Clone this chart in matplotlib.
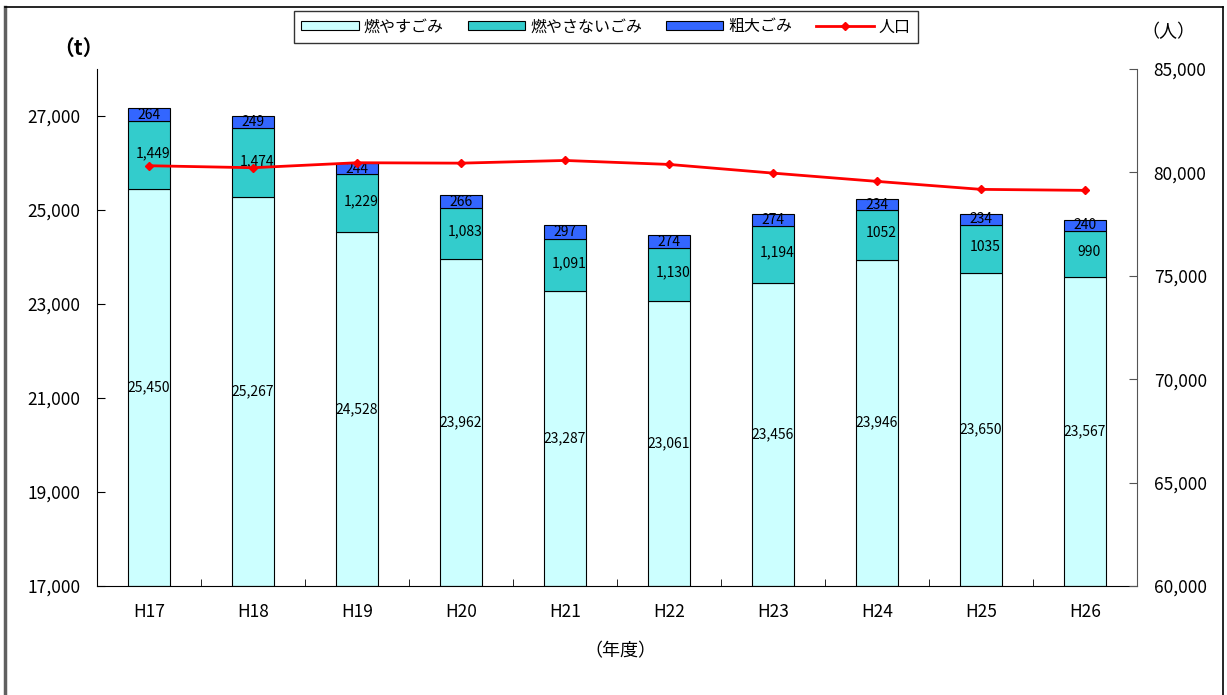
import numpy as np
import matplotlib
matplotlib.use("Agg")
import matplotlib.pyplot as plt
from matplotlib.lines import Line2D

plt.rcParams['font.family'] = ['Noto Sans CJK JP', 'DejaVu Sans']

years = ["H17", "H18", "H19", "H20", "H21", "H22", "H23", "H24", "H25", "H26"]
burnable = [25450, 25267, 24528, 23962, 23287, 23061, 23456, 23946, 23650, 23567]
nonburnable = [1449, 1474, 1229, 1083, 1091, 1130, 1194, 1052, 1035, 990]
bulky = [264, 249, 244, 266, 297, 274, 274, 234, 234, 240]
population = [80323, 80227, 80468, 80448, 80578, 80386, 79966, 79566, 79180, 79132]

burnable_labels = ["25,450", "25,267", "24,528", "23,962", "23,287",
                   "23,061", "23,456", "23,946", "23,650", "23,567"]
nonburnable_labels = ["1,449", "1,474", "1,229", "1,083", "1,091",
                      "1,130", "1,194", "1052", "1035", "990"]
bulky_labels = ["264", "249", "244", "266", "297", "274", "274", "234", "234", "240"]

YMIN, YMAX = 17000, 28000

fig = plt.figure(figsize=(12.27, 6.95), dpi=100)
ax = fig.add_axes([0.0791, 0.1568, 0.8476, 0.7439])
ax2 = ax.twinx()

x = np.arange(len(years))
w = 0.4
b1 = np.array(burnable)
b2 = b1 + np.array(nonburnable)

ax.bar(x, b1 - YMIN, w, bottom=YMIN, color="#CCFFFF", edgecolor="black", linewidth=0.8, label="燃やすごみ")
ax.bar(x, nonburnable, w, bottom=b1, color="#33CCCC", edgecolor="black", linewidth=0.8, label="燃やさないごみ")
ax.bar(x, bulky, w, bottom=b2, color="#3366FF", edgecolor="black", linewidth=0.8, label="粗大ごみ")

for i in range(len(years)):
    ax.text(x[i], (YMIN + b1[i]) / 2, burnable_labels[i], ha="center", va="center", fontsize=10)
    ax.text(x[i] + 0.04, b1[i] + nonburnable[i] / 2 + 40, nonburnable_labels[i], ha="center", va="center", fontsize=10)
    ax.text(x[i], b2[i] + bulky[i] / 2, bulky_labels[i], ha="center", va="center", fontsize=10)

ax2.plot(x, population, color="#FF0000", linewidth=2, marker="D", markersize=4, label="人口")

ax.set_xlim(-0.5, len(years) - 0.5)
ax.set_ylim(YMIN, YMAX)
ax.set_yticks(np.arange(17000, 28001, 2000))
ax.set_yticklabels([f"{v:,}" for v in range(17000, 28001, 2000)], fontsize=12.5)
ax.set_xticks(x)
ax.set_xticklabels(years, fontsize=12.5)
ax.set_xticks(np.arange(0.5, len(years) - 1, 1), minor=True)
ax.tick_params(axis="x", which="major", length=0, pad=12)
ax.tick_params(axis="x", which="minor", direction="in", length=5)
ax.tick_params(axis="y", direction="in", length=6, pad=12)

ax2.set_ylim(60000, 85000)
ax2.set_yticks(np.arange(60000, 85001, 5000))
ax2.set_yticklabels([f"{v:,}" for v in range(60000, 85001, 5000)], fontsize=12.5)
ax2.tick_params(axis="y", direction="in", length=6, pad=12, color="#555555")

for a in (ax, ax2):
    a.spines["top"].set_visible(False)
ax.spines["right"].set_visible(False)
ax2.spines["left"].set_visible(False)
ax2.spines["bottom"].set_visible(False)
ax2.spines["right"].set_color("#555555")

fig.text(78 / 1227, 1 - 48 / 695, "（t）", ha="center", va="center", fontsize=15, fontweight="bold")
fig.text(1168 / 1227, 1 - 32 / 695, "（人）", ha="center", va="center", fontsize=13)
fig.text(620 / 1227, 1 - 651 / 695, "（年度）", ha="center", va="center", fontsize=13)

h1, l1 = ax.get_legend_handles_labels()
h2, l2 = ax2.get_legend_handles_labels()
leg = fig.legend(h1 + h2, l1 + l2, loc="center", bbox_to_anchor=(606 / 1227, 1 - 27 / 695),
                 ncol=4, fontsize=11.5, frameon=True, fancybox=False, edgecolor="black",
                 handlelength=3.6, handleheight=0.5, columnspacing=1.5, handletextpad=0.3,
                 borderpad=0.45, borderaxespad=0)
leg.get_frame().set_linewidth(1.0)

# outer border
fig.add_artist(Line2D([5 / 1227, 5 / 1227], [0, 1 - 7 / 695], transform=fig.transFigure, color="#606060", linewidth=2.5))
fig.add_artist(Line2D([5 / 1227, 1223 / 1227], [1 - 7 / 695, 1 - 7 / 695], transform=fig.transFigure, color="black", linewidth=1.2))
fig.add_artist(Line2D([1223 / 1227, 1223 / 1227], [0, 1 - 7 / 695], transform=fig.transFigure, color="black", linewidth=1.2))

fig.savefig("out.png", dpi=100)
